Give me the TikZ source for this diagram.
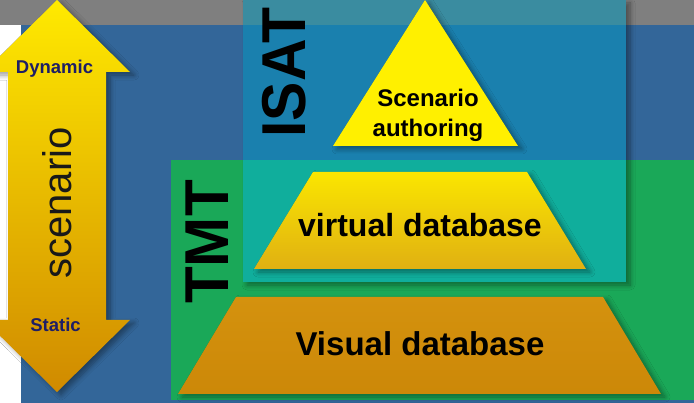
\documentclass[tikz,border=0pt]{standalone}
\usepackage{fontspec}
\setmainfont{Liberation Sans}
\usetikzlibrary{shadows.blur}
\definecolor{grayband}{HTML}{7F7F7F}
\definecolor{bgblue}{HTML}{336699}
\definecolor{tmtgreen}{HTML}{1AA858}
\definecolor{isatblue}{HTML}{1A80AE}
\definecolor{isatgray}{HTML}{3A8CA0}
\definecolor{isatteal}{HTML}{10AE9C}
\definecolor{triyellow}{HTML}{FFF000}
\definecolor{gold1}{HTML}{FAE600}
\definecolor{gold2}{HTML}{E0B012}
\definecolor{orange1}{HTML}{D4920E}
\definecolor{orange2}{HTML}{CC8808}
\definecolor{arrowtop}{HTML}{FFEA00}
\definecolor{arrowbot}{HTML}{D08A00}
\definecolor{navy}{HTML}{1E1E66}
\begin{document}
\begin{tikzpicture}[x=1pt,y=-1pt,
  shd/.style={blur shadow={shadow xshift=4pt, shadow yshift=-3pt, shadow blur steps=8, shadow blur radius=5pt, shadow opacity=40}},
  lbl/.style={inner sep=0pt, text=black, font=\bfseries}]
\useasboundingbox (0,0) rectangle (694,403);
\clip (0,0) rectangle (694,403);
% background
\fill[white] (0,0) rectangle (694,403);
\fill[grayband] (0,0) rectangle (694,25);
\fill[bgblue] (21,25) rectangle (694,403);
% TMT box
\fill[tmtgreen] (171,160) rectangle (694,400);
% ISAT box
\fill[isatblue, shd] (243,0) rectangle (626,282);
\fill[isatgray] (243,0) rectangle (626,25);
\fill[isatteal] (243,160) rectangle (626,282);
% double arrow
\shade[top color=arrowtop, bottom color=arrowbot, shd]
  (57,0) -- (130,72) -- (106,72) -- (106,320) -- (130,320) -- (57,392)
  -- (-16,320) -- (8,320) -- (8,72) -- (-16,72) -- cycle;
% pyramid
\fill[triyellow, shd] (425,0) -- (518,146) -- (333,146) -- cycle;
\shade[top color=gold1, bottom color=gold2, shd] (313,172) -- (527,172) -- (586,269) -- (254,269) -- cycle;
\shade[top color=orange1, bottom color=orange2, shd] (236,297) -- (603,297) -- (661,394) -- (178,394) -- cycle;
% labels
\node[lbl, align=center, font=\bfseries\fontsize{24}{30}\selectfont] (auth) at (428,115) {Scenario\\authoring};
\node[lbl, font=\bfseries\fontsize{32}{36}\selectfont] (virt) at (420,225.5) {virtual database};
\node[lbl, font=\bfseries\fontsize{33}{38}\selectfont] (vis) at (420,344) {Visual database};
\node[lbl, rotate=90, font=\bfseries\fontsize{62}{70}\selectfont] (isat) at (284.5,72.5) {\scalebox{0.95}[1]{ISAT}};
\node[lbl, rotate=90, font=\bfseries\fontsize{62}{70}\selectfont] (tmt) at (207.5,242) {\scalebox{0.97}[1]{TMT}};
\node[inner sep=0pt, rotate=90, text=black!90, font=\fontsize{40}{44}\selectfont] (scen) at (57,203) {scenario};
\node[inner sep=0pt, text=navy, font=\bfseries\fontsize{18.5}{22}\selectfont] (dyn) at (54.5,68.5) {Dynamic};
\node[inner sep=0pt, text=navy, font=\bfseries\fontsize{18.5}{22}\selectfont] (stat) at (55.5,325) {Static};
\end{tikzpicture}
\end{document}
